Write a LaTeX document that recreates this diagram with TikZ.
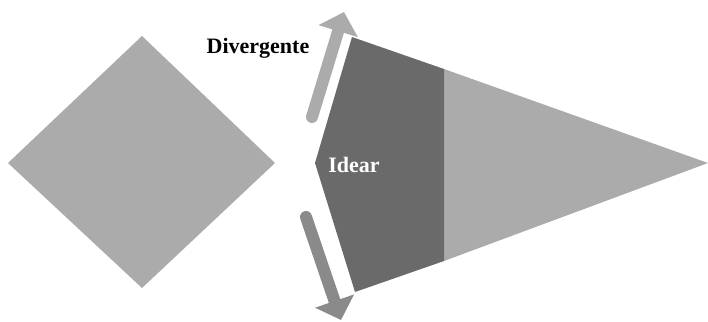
\documentclass[tikz,border=0pt]{standalone}
\usepackage{fontspec}
\setmainfont{Liberation Serif}
\usetikzlibrary{arrows.meta}

\definecolor{lightgrey}{HTML}{ABABAB}
\definecolor{darkgrey}{HTML}{6A6A6A}
\definecolor{midgrey}{HTML}{8A8A8A}

\begin{document}
\begin{tikzpicture}
		[x=1pt,y=-1pt,
		 label/.style={font=\bfseries\fontsize{22}{24}\selectfont,inner sep=0pt,anchor=base},
		 wide arrow/.style={line width=12pt,line cap=round,-{Triangle[length=20pt,width=40pt]}}]
		\useasboundingbox (0,0) rectangle (708,321);

		% shapes
		\fill[lightgrey] (8,163) -- (142,36) -- (275,163) -- (142,288) -- cycle;
		\fill[lightgrey] (444,69) -- (708,163) -- (444,261) -- cycle;
		\fill[darkgrey] (352,37) -- (444,69) -- (444,261) -- (355,292) -- (315,163) -- cycle;

		% arrow ends
		\coordinate (up1) at (312,117);
		\coordinate (up2) at (344,12);
		\coordinate (down1) at (306,217);
		\coordinate (down2) at (341,320);

		\draw[wide arrow,lightgrey] (up1) -- (up2);
		\draw[wide arrow,midgrey] (down1) -- (down2);

		\node[label] (div) at (258,53) {Divergente};
		\node[label,white] (idear) at (354,172) {Idear};

	\end{tikzpicture}
\end{document}
